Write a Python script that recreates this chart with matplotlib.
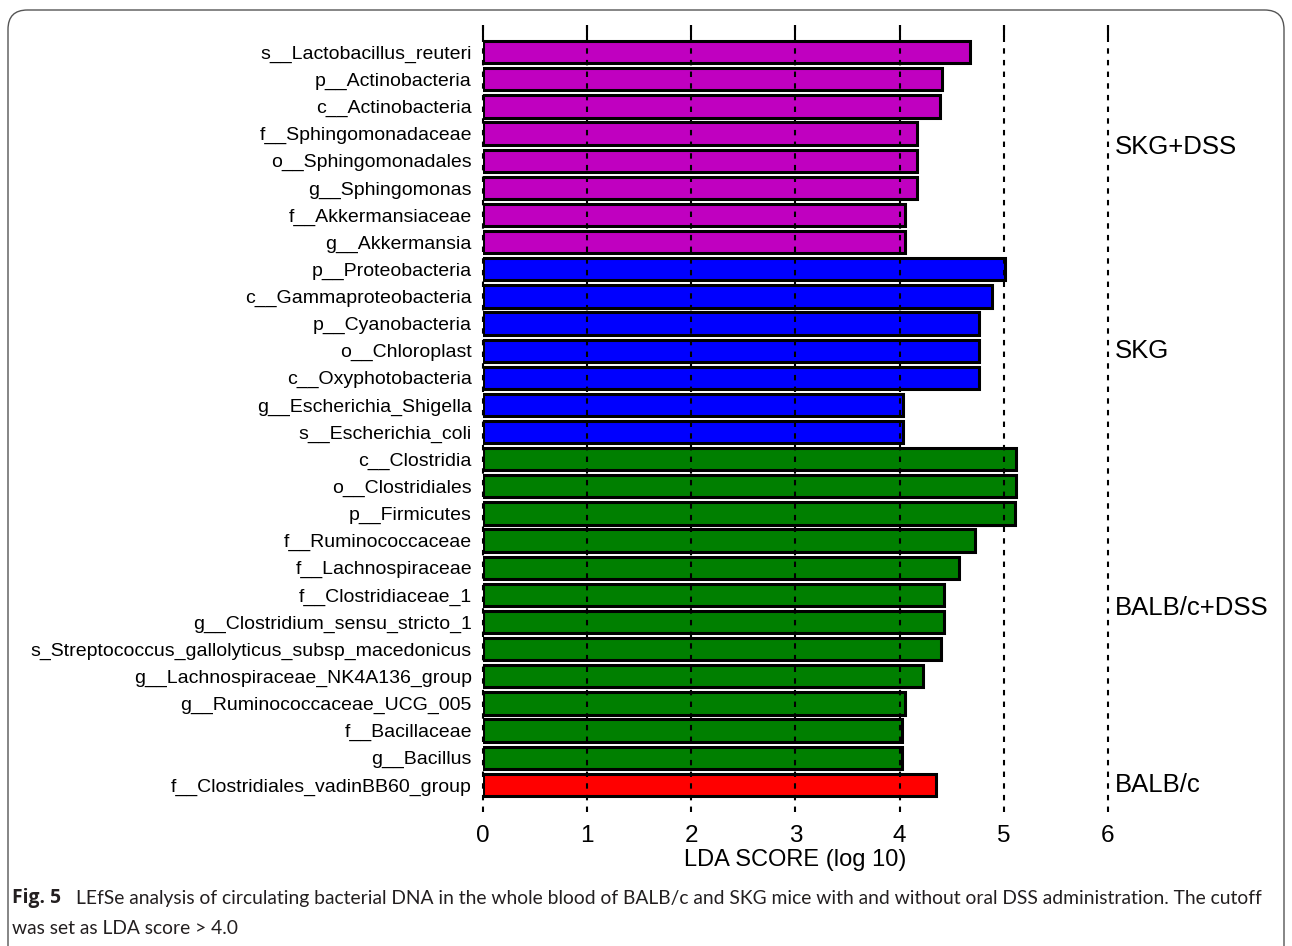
import matplotlib
matplotlib.use("Agg")
import matplotlib.pyplot as plt
from matplotlib.patches import FancyBboxPatch

taxa = [
    "s__Lactobacillus_reuteri", "p__Actinobacteria", "c__Actinobacteria",
    "f__Sphingomonadaceae", "o__Sphingomonadales", "g__Sphingomonas",
    "f__Akkermansiaceae", "g__Akkermansia",
    "p__Proteobacteria", "c__Gammaproteobacteria", "p__Cyanobacteria",
    "o__Chloroplast", "c__Oxyphotobacteria", "g__Escherichia_Shigella",
    "s__Escherichia_coli",
    "c__Clostridia", "o__Clostridiales", "p__Firmicutes", "f__Ruminococcaceae",
    "f__Lachnospiraceae", "f__Clostridiaceae_1", "g__Clostridium_sensu_stricto_1",
    "s_Streptococcus_gallolyticus_subsp_macedonicus", "g__Lachnospiraceae_NK4A136_group",
    "g__Ruminococcaceae_UCG_005", "f__Bacillaceae", "g__Bacillus",
    "f__Clostridiales_vadinBB60_group",
]
lda = [
    4.68, 4.41, 4.39, 4.17, 4.17, 4.17, 4.05, 4.05,
    5.01, 4.89, 4.76, 4.76, 4.76, 4.03, 4.03,
    5.12, 5.12, 5.11, 4.72, 4.57, 4.43, 4.43, 4.40, 4.22, 4.05, 4.02, 4.02,
    4.35,
]
groups = (["SKG+DSS"] * 8 + ["SKG"] * 7 + ["BALB/c+DSS"] * 12 + ["BALB/c"] * 1)
group_names = ["SKG+DSS", "SKG", "BALB/c+DSS", "BALB/c"]
group_colors = {"SKG+DSS": "#C000C0", "SKG": "#0000FF",
                "BALB/c+DSS": "#007F00", "BALB/c": "#FF0000"}
xticks = [0, 1, 2, 3, 4, 5, 6]

W, H = 1292, 946
fig = plt.figure(figsize=(W / 100, H / 100), dpi=100)

# rounded frame
frame = FancyBboxPatch((8 / W, -0.05), (1284 - 8) / W, (946 - 10) / H + 0.05,
                       boxstyle="round,pad=0,rounding_size=0.015",
                       transform=fig.transFigure, fill=False,
                       edgecolor="#555555", linewidth=1.0, mutation_aspect=W / H)
fig.patches.append(frame)

left, right = 483, 1108
top, bottom = 25, 812
ax = fig.add_axes([left / W, 1 - bottom / H, (right - left) / W, (bottom - top) / H])

ypos = list(range(len(taxa)))
colors = [group_colors[g] for g in groups]
ax.barh(ypos, lda, height=0.82, color=colors, edgecolor="black",
        linewidth=2.2, zorder=2)
ax.set_ylim(len(taxa), -1)
ax.set_xlim(0, 6)
for xv in xticks:
    ax.axvline(xv, color="black", linewidth=1.5, linestyle=(0, (2.6, 3.0)),
               zorder=3, clip_on=False)
    # longer solid dash at the top of each grid line
    ax.plot([xv, xv], [-1, -0.55], color="black", linewidth=1.5, zorder=3,
            clip_on=False, solid_capstyle="butt")
for s in ax.spines.values():
    s.set_visible(False)
ax.set_yticks(ypos)
ax.set_yticklabels(taxa, fontsize=14, family="Liberation Sans")
ax.tick_params(axis="y", length=0, pad=8)
ax.set_xticks(xticks)
ax.set_xticklabels([str(v) for v in xticks], fontsize=17.5, family="Liberation Sans")
ax.tick_params(axis="x", length=0, pad=9)
ax.set_xlabel("LDA SCORE (log 10)", fontsize=17, family="Liberation Sans", labelpad=2)

# group labels on right
for g in group_names:
    idx = [i for i, gg in enumerate(groups) if gg == g]
    yc = (idx[0] + idx[-1]) / 2
    ax.text(6.07, yc, g, fontsize=18.5, family="Liberation Sans",
            va="center", ha="left", clip_on=False)

# caption
cap_y1 = 1 - 898 / H
cap_y2 = 1 - 928 / H
fig.text(12 / W, cap_y1, "Fig. 5", fontsize=13.9, fontweight="bold",
         family="Open Sans", va="center", ha="left", color="#231f20")
fig.text(76 / W, cap_y1,
         "LEfSe analysis of circulating bacterial DNA in the whole blood of BALB/c and SKG mice "
         "with and without oral DSS administration. The cutoff",
         fontsize=13.85, family="Lato", va="center", ha="left", color="#231f20")
fig.text(12 / W, cap_y2, "was set as LDA score > 4.0", fontsize=13.85, family="Lato",
         va="center", ha="left", color="#231f20")

fig.savefig("out.png", dpi=100)
